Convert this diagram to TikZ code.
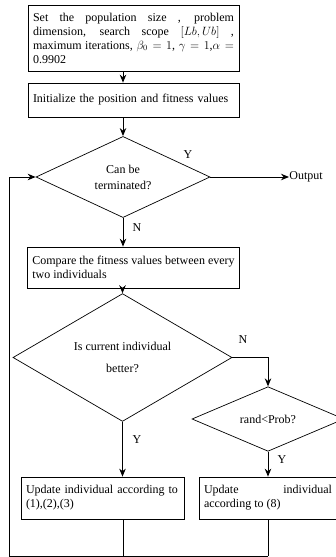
\documentclass[tikz,border=0pt]{standalone}
\usepackage{fontspec}
\setmainfont{Liberation Serif}
\usetikzlibrary{shapes.geometric,arrows.meta}

\begin{document}
\begin{tikzpicture}[x=1pt,y=-1pt,line width=0.7pt,
    every node/.style={font=\fontsize{12}{14}\selectfont},
    proc/.style={draw,rectangle,inner xsep=5pt,inner ysep=2pt},
    cond/.style={draw,diamond,inner sep=0pt,align=center},
    flow/.style={-{Stealth[length=8pt,width=6.5pt]},line width=1pt}]
          \useasboundingbox (0,0) rectangle (336,557);

          \node[proc,minimum width=211pt,minimum height=66pt,text width=201pt,align=justify] (S) at (133.5,38)
            {\baselineskip=13.5pt Set the population size , problem\linebreak dimension, search scope $[Lb,Ub]$ ,\linebreak maximum iterations, $\beta_0=1$, $\gamma=1$,$\alpha=$\linebreak 0.9902};
          \node[proc,minimum height=34pt,text width=201pt,align=left] (I) at (133.5,100)
            {Initialize the position and fitness values};
          \node[cond,minimum width=174pt,minimum height=73pt] (T) at (123,177)
            {Can be\\[2pt]terminated?};
          \node[anchor=west,inner sep=0pt] (O) at (289,177) {Output};
          \node[proc,minimum width=211pt,minimum height=41pt,align=left] (C) at (133.5,267.5)
            {Compare the fitness values between every\\two individuals};
          \node[cond,minimum width=219pt,minimum height=95pt] (B) at (122.5,357.5)
            {Is current individual\\[8pt]better?};
          \node[cond,minimum width=152pt,minimum height=60pt] (R) at (268,419)
            {rand\textless Prob?};
          \node[proc,minimum width=163pt,minimum height=42pt,text width=153pt,align=left] (U1) at (102.5,498)
            {Update individual according to\\(1),(2),(3)};
          \node[proc,minimum width=138pt,minimum height=42pt,text width=128pt,align=justify] (U2) at (268,498)
            {Update individual\linebreak according to (8)};

          \node (Ya) at (188,155) {Y};
          \node (Na) at (137,228) {N};
          \node (Nb) at (243,340) {N};
          \node (Yb) at (137,440) {Y};
          \node (Yc) at (282,460) {Y};

          \coordinate (J1) at (123,556);
          \coordinate (J2) at (268,556);
          \coordinate (L) at (9,556);

          \draw[flow] (S.south -| T.north) -- (I.north -| T.north);
          \draw[flow] (I.south -| T.north) -- (T.north);
          \draw[flow] (T.east) -- (O.west);
          \draw[flow] (T.south) -- (C.north -| T.south);
          \draw[flow] (C.south -| B.north) -- (B.north);
          \draw[flow] (B.east) -| (R.north);
          \draw[flow] (B.south) -- (B.south |- U1.north);
          \draw[flow] (R.south) -- (U2.north);
          \draw (U1.south -| J1) -- (J1);
          \draw (U2.south) -- (J2);
          \draw[flow] (J2) -- (L) |- (T.west);
        \end{tikzpicture}
\end{document}
